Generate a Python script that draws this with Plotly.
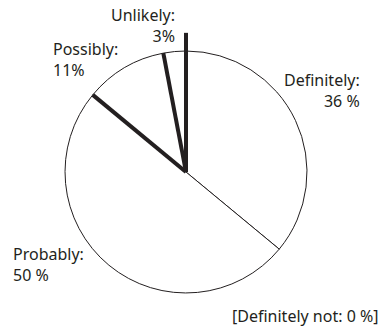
import math
import plotly.graph_objects as go

# Data
categories = ["Definitely", "Probably", "Possibly", "Unlikely", "Definitely not"]
values = [36, 50, 11, 3, 0]
label_texts = ["Definitely:<br>36 %", "Probably:<br>50 %", "Possibly:<br>11%", "Unlikely:<br>3%", "[Definitely not: 0 %]"]

W, H = 382, 328
CX, CY, R = 186, 172, 121  # pie geometry in pixels (layout)
INK = "#231f20"
FONT = "Noto Sans"
FS = 16

fig = go.Figure(go.Pie(
    labels=categories,
    values=values,
    sort=False,
    direction="clockwise",
    rotation=0,
    textinfo="none",
    hoverinfo="label+percent",
    marker=dict(colors=["white"] * len(values), line=dict(color=INK, width=1)),
    domain=dict(x=[(CX - R) / W, (CX + R) / W], y=[(H - CY - R) / H, (H - CY + R) / H]),
    showlegend=False,
))

def px2paper(x, y):
    return x / W, (H - y) / H

# Thick separators around "Possibly" and "Unlikely" slices, derived from data
total = sum(values)
cum = 0
bounds = []
for v in values:
    cum += v
    bounds.append(cum / total * 360.0)
thick_angles = [bounds[1], bounds[2], 0.0]  # start of Possibly, start of Unlikely, end of Unlikely
ext = [1.0, 1.0, 1.15]
shapes = []
for ang, e in zip(thick_angles, ext):
    a = math.radians(ang)
    x1 = CX + e * R * math.sin(a)
    y1 = CY - e * R * math.cos(a)
    p0 = px2paper(CX, CY)
    p1 = px2paper(x1, y1)
    shapes.append(dict(type="line", xref="paper", yref="paper",
                       x0=p0[0], y0=p0[1], x1=p1[0], y1=p1[1],
                       line=dict(color=INK, width=4)))

# Label placements (pixels): x, y (top), xanchor, align
placements = [
    (362, 67, "right", "right"),
    (11, 241, "left", "left"),
    (51, 36, "left", "left"),
    (177, 2, "right", "right"),
    (381, 303, "right", "right"),
]
annotations = []
for txt, (x, y, xa, al) in zip(label_texts, placements):
    px, py = px2paper(x, y)
    annotations.append(dict(text=txt, x=px, y=py, xref="paper", yref="paper",
                            xanchor=xa, yanchor="top", align=al, showarrow=False,
                            font=dict(family=FONT, size=FS, color=INK)))

fig.update_layout(
    width=W, height=H,
    margin=dict(l=0, r=0, t=0, b=0),
    paper_bgcolor="white", plot_bgcolor="white",
    shapes=shapes, annotations=annotations,
)

fig.write_html("out.html", config={"displayModeBar": False},
               post_script="document.body.style.margin='0';document.body.style.overflow='hidden';")
